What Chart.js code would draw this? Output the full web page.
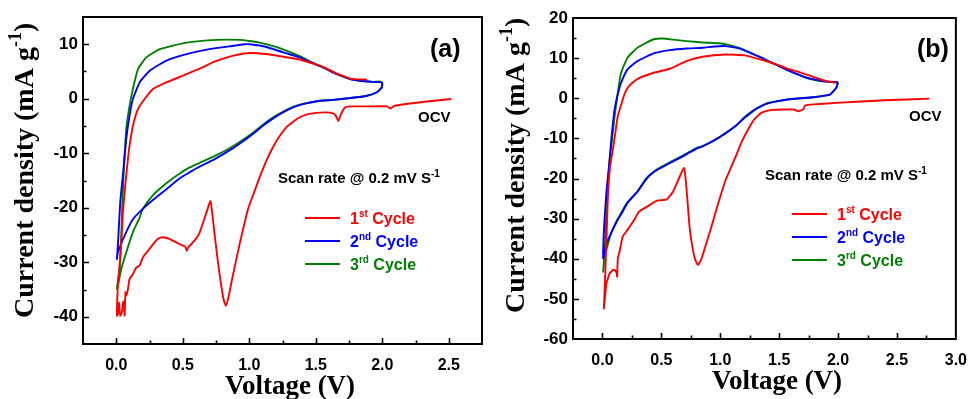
<!DOCTYPE html>
<html>
<head>
<meta charset="utf-8">
<script src="https://cdn.jsdelivr.net/npm/chart.js@4.4.1/dist/chart.umd.min.js"></script>
<style>
  body { margin: 0; background: #fff; }
  #wrap { position: relative; width: 979px; height: 399px; }
  .panel { position: absolute; top: 0; height: 399px; }
</style>
</head>
<body>
<div id="wrap">
  <div class="panel" style="left:0;width:490px"><canvas id="chartA"></canvas></div>
  <div class="panel" style="left:490px;width:489px"><canvas id="chartB"></canvas></div>
</div>
<script>
// ticks
const aTicksX = [0, 0.5, 1.0, 1.5, 2.0, 2.5];
const aTicksY = [-40, -30, -20, -10, 0, 10];
const bTicksX = [0, 0.5, 1.0, 1.5, 2.0, 2.5, 3.0];
const bTicksY = [-60, -50, -40, -30, -20, -10, 0, 10, 20];

const cycleNum = ['1', '2', '3'];
const cycleSup = ['st', 'nd', 'rd'];
const cycleColors = ['#ff0000', '#0000ff', '#008000'];

// panel (a) : [voltage V, current density mA g-1]
const aCycle1 = [
  [2.52, -0.05], [2.30, -0.6], [2.09, -1.3], [2.06, -1.8], [2.04, -1.4], [1.90, -1.4],
  [1.76, -1.4], [1.72, -1.6], [1.69, -2.8], [1.67, -4.1], [1.65, -3.1], [1.63, -2.7],
  [1.58, -2.5], [1.50, -2.6], [1.43, -2.9], [1.38, -3.4], [1.33, -4.2], [1.28, -5.2],
  [1.23, -6.8], [1.18, -8.8], [1.13, -11.3], [1.08, -14.3], [1.03, -17.6], [0.99, -20.3],
  [0.93, -26.4], [0.87, -33.2], [0.845, -36.3], [0.824, -38.0], [0.805, -36.6], [0.77, -31.0],
  [0.74, -25.0], [0.709, -18.8], [0.679, -20.8], [0.628, -24.5], [0.59, -26.0], [0.54, -27.3],
  [0.53, -27.9], [0.52, -27.2], [0.477, -26.7], [0.40, -25.7], [0.35, -25.4], [0.314, -25.7],
  [0.276, -26.7], [0.238, -27.9], [0.20, -29.1], [0.176, -30.6], [0.15, -31.0], [0.125, -32.2],
  [0.10, -33.1], [0.088, -34.9], [0.075, -36.1], [0.069, -35.5], [0.063, -39.8], [0.056, -37.2],
  [0.05, -37.4], [0.042, -39.2], [0.03, -39.8], [0.02, -37.4], [0.012, -39.5], [0.005, -39.8],
  [0.012, -34.3], [0.025, -30.6], [0.038, -26.3], [0.05, -20.8], [0.07, -15.3], [0.088, -11.0],
  [0.10, -8.6], [0.125, -5.0], [0.163, -1.9], [0.213, -0.05], [0.276, 1.8], [0.377, 3.0],
  [0.528, 4.5], [0.653, 5.8], [0.729, 6.7], [0.88, 7.9], [1.005, 8.4], [1.13, 8.2],
  [1.256, 7.7], [1.38, 7.2], [1.46, 6.6], [1.56, 5.8], [1.66, 4.6], [1.76, 3.7], [1.885, 3.5]
];
const aCycle2 = [
  [2.0, 3.0], [1.998, 2.1], [1.96, 1.2], [1.885, 0.55], [1.76, 0.13], [1.63, -0.2],
  [1.51, -0.45], [1.42, -0.9], [1.34, -1.5], [1.26, -2.4], [1.18, -3.6], [1.10, -5.0],
  [1.03, -6.4], [0.93, -8.2], [0.83, -9.8], [0.73, -11.2], [0.63, -12.4], [0.53, -13.8],
  [0.477, -14.6], [0.377, -16.6], [0.28, -18.5], [0.20, -20.2], [0.125, -22.1], [0.063, -25.1],
  [0.012, -28.2], [0.005, -29.4], [0.012, -27.0], [0.03, -19.0], [0.05, -14.0], [0.075, -7.4],
  [0.10, -3.1], [0.125, -0.05], [0.176, 3.0], [0.25, 5.1], [0.377, 7.0], [0.528, 8.2],
  [0.70, 9.1], [0.85, 9.6], [0.96, 10.0], [1.005, 10.0], [1.13, 9.5], [1.256, 8.5],
  [1.38, 7.6], [1.46, 6.7], [1.56, 5.7], [1.66, 4.5], [1.76, 3.6], [1.835, 3.3],
  [1.93, 3.1], [2.0, 3.0]
];
const aCycle3 = [
  [2.0, 2.9], [1.998, 2.1], [1.96, 1.2], [1.885, 0.55], [1.76, 0.13], [1.63, -0.2],
  [1.51, -0.45], [1.42, -0.85], [1.34, -1.4], [1.26, -2.3], [1.18, -3.4], [1.10, -4.8],
  [1.03, -6.2], [0.93, -7.9], [0.83, -9.4], [0.73, -10.6], [0.63, -11.7], [0.553, -12.6],
  [0.477, -13.7], [0.377, -15.5], [0.28, -17.6], [0.20, -20.2], [0.176, -21.8], [0.125, -24.5],
  [0.075, -28.2], [0.038, -31.2], [0.012, -34.3], [0.005, -34.8], [0.025, -31.2], [0.038, -25.1],
  [0.05, -16.6], [0.075, -5.6], [0.10, -1.3], [0.125, 1.8], [0.163, 5.4], [0.226, 7.6],
  [0.327, 9.1], [0.528, 10.3], [0.754, 10.8], [0.93, 10.8], [1.005, 10.6], [1.08, 10.3],
  [1.23, 9.3], [1.38, 7.8], [1.46, 6.8], [1.56, 5.7], [1.66, 4.5], [1.76, 3.6],
  [1.835, 3.3], [1.93, 3.1], [1.985, 3.15], [2.0, 2.9]
];

// panel (b)
const bCycle1 = [
  [2.774, -0.1], [2.40, -0.5], [1.985, -1.15], [1.764, -1.6], [1.72, -1.8], [1.708, -2.65],
  [1.667, -3.25], [1.625, -2.8], [1.55, -2.8], [1.432, -2.9], [1.349, -3.65], [1.29, -5.2],
  [1.24, -7.6], [1.18, -11.0], [1.127, -14.8], [1.044, -20.5], [0.99, -25.5], [0.93, -31.5],
  [0.878, -36.5], [0.84, -40.0], [0.81, -41.6], [0.785, -40.0], [0.76, -36.5], [0.739, -32.0],
  [0.712, -22.0], [0.693, -17.4], [0.656, -19.5], [0.60, -23.25], [0.546, -25.2], [0.463, -25.5],
  [0.38, -27.0], [0.31, -28.25], [0.27, -30.3], [0.213, -32.8], [0.172, -34.5], [0.145, -38.25],
  [0.13, -40.0], [0.125, -44.5], [0.12, -43.5], [0.105, -42.8], [0.089, -42.8], [0.075, -43.2],
  [0.061, -43.65], [0.045, -45.0], [0.033, -46.15], [0.012, -52.4], [0.02, -47.0], [0.033, -36.0],
  [0.047, -24.0], [0.065, -17.0], [0.09, -12.5], [0.105, -9.5], [0.13, -4.5], [0.16, -1.5],
  [0.19, 1.3], [0.23, 3.2], [0.297, 4.8], [0.435, 6.35], [0.573, 7.35], [0.712, 9.25],
  [0.85, 10.35], [1.044, 10.9], [1.21, 10.7], [1.404, 9.1], [1.487, 8.3], [1.57, 7.4],
  [1.65, 6.7], [1.736, 5.9], [1.82, 5.0], [1.90, 4.25], [1.985, 3.85]
];
const bCycle2 = [
  [2.0, 4.0], [1.985, 2.6], [1.93, 0.9], [1.79, 0.25], [1.68, 0.0], [1.57, -0.3],
  [1.49, -0.7], [1.404, -1.3], [1.34, -2.1], [1.293, -2.9], [1.21, -4.8], [1.127, -7.0],
  [1.044, -8.8], [0.96, -10.3], [0.85, -12.0], [0.795, -12.6], [0.712, -14.0], [0.629, -15.3],
  [0.57, -16.2], [0.50, -17.3], [0.435, -18.4], [0.37, -20.2], [0.297, -23.3], [0.21, -26.2],
  [0.158, -29.0], [0.13, -30.2], [0.075, -33.5], [0.04, -35.8], [0.02, -37.8], [0.006, -39.9],
  [0.014, -32.0], [0.033, -23.65], [0.047, -19.5], [0.061, -15.3], [0.075, -10.3], [0.103, -2.8],
  [0.13, 1.0], [0.158, 3.85], [0.213, 7.2], [0.297, 9.25], [0.435, 11.2], [0.573, 12.0],
  [0.712, 12.4], [0.85, 12.6], [0.95, 12.9], [1.044, 13.0], [1.13, 12.6], [1.183, 12.2],
  [1.266, 11.2], [1.349, 10.1], [1.404, 9.3], [1.487, 8.2], [1.57, 7.0], [1.65, 6.1],
  [1.736, 5.1], [1.847, 4.4], [1.93, 4.1], [2.0, 4.0]
];
const bCycle3 = [
  [2.0, 4.0], [1.985, 2.6], [1.93, 0.9], [1.79, 0.25], [1.68, 0.0], [1.57, -0.3],
  [1.49, -0.7], [1.404, -1.15], [1.34, -2.0], [1.293, -2.8], [1.21, -4.6], [1.127, -7.0],
  [1.044, -8.7], [0.96, -10.3], [0.85, -11.9], [0.795, -12.4], [0.712, -13.8], [0.629, -15.1],
  [0.57, -16.0], [0.50, -17.1], [0.435, -18.3], [0.37, -20.0], [0.297, -23.2], [0.21, -26.0],
  [0.158, -28.6], [0.10, -31.8], [0.075, -33.6], [0.04, -37.0], [0.02, -39.5], [0.006, -43.25],
  [0.02, -37.8], [0.04, -23.65], [0.061, -15.3], [0.075, -12.0], [0.103, -4.5], [0.13, 1.35],
  [0.158, 6.35], [0.213, 10.1], [0.297, 12.6], [0.435, 14.7], [0.518, 14.9], [0.60, 14.6],
  [0.712, 14.25], [0.85, 13.9], [0.988, 13.7], [1.07, 13.3], [1.155, 12.6], [1.25, 11.4],
  [1.349, 10.1], [1.404, 9.3], [1.487, 8.2], [1.57, 7.0], [1.65, 6.0], [1.736, 5.0],
  [1.847, 4.3], [1.93, 4.05], [2.0, 4.0]
];

const SANS = "'Liberation Sans', Arial, sans-serif";
const SERIF = "'Liberation Serif', 'Times New Roman', serif";
const xTickFont = { family: SANS, size: 16, weight: 'bold' };
const yTickFont = { family: SANS, size: 17, weight: 'bold' };

// text with a superscript part
function supText(ctx, x, y, parts, size, color) {
  ctx.fillStyle = color;
  ctx.textBaseline = 'alphabetic';
  ctx.textAlign = 'left';
  parts.forEach(p => {
    const fs = p.sup ? Math.round(size * 0.64) : size;
    ctx.font = 'bold ' + fs + 'px ' + (p.serif ? SERIF : SANS);
    ctx.fillText(p.t, x, p.sup ? y - size * 0.42 : y);
    x += ctx.measureText(p.t).width;
  });
  return x;
}

function decorPlugin(o) {
  return {
    id: 'decor',
    afterDraw(chart) {
      const ctx = chart.ctx, a = chart.chartArea;
      const sx = chart.scales.x, sy = chart.scales.y;
      ctx.save();
      // minor / major ticks, pointing inward
      ctx.strokeStyle = '#000';
      ctx.lineWidth = 1.6;
      ctx.beginPath();
      for (let v = o.xMin + 0.25; v < o.xMax - 1e-6; v += 0.25) {
        const px = Math.round(sx.getPixelForValue(v)) + 0.5;
        const major = o.ticksX.some(t => Math.abs(t - v) < 1e-6);
        ctx.moveTo(px, a.bottom);
        ctx.lineTo(px, a.bottom - (major ? 6 : 3.5));
      }
      for (let v = o.yMin + 5; v < o.yMax - 1e-6; v += 5) {
        const py = Math.round(sy.getPixelForValue(v)) + 0.5;
        const major = o.ticksY.some(t => Math.abs(t - v) < 1e-6);
        ctx.moveTo(a.left, py);
        ctx.lineTo(a.left + (major ? 6 : 3.5), py);
      }
      ctx.stroke();
      // frame
      ctx.lineWidth = 2;
      ctx.strokeRect(a.left, a.top, a.right - a.left, a.bottom - a.top);

      // axis titles
      ctx.save();
      ctx.translate(o.yTitleX, o.yTitleY);
      ctx.rotate(-Math.PI / 2);
      supText(ctx, 0, 0, [
        { t: 'Current density (mA g', serif: true },
        { t: '-1', serif: true, sup: true },
        { t: ')', serif: true }
      ], 28, '#000');
      ctx.restore();
      ctx.font = 'bold 27px ' + SERIF;
      ctx.fillStyle = '#000';
      ctx.textAlign = 'center';
      ctx.textBaseline = 'alphabetic';
      ctx.fillText('Voltage (V)', o.xTitleX, o.xTitleY);

      // panel label, OCV, scan rate
      supText(ctx, o.tagX, o.tagY, [{ t: o.tag }], 25, '#000');
      supText(ctx, o.ocvX, o.ocvY, [{ t: 'OCV' }], 15, '#000');
      supText(ctx, o.scanX, o.scanY, [{ t: 'Scan rate @ 0.2 mV S' }, { t: '-1', sup: true }], 15, '#000');

      // legend
      cycleNum.forEach((n, i) => {
        const ly = o.legY + i * 23;
        ctx.strokeStyle = cycleColors[i];
        ctx.lineWidth = 2;
        ctx.beginPath();
        ctx.moveTo(o.legX, ly);
        ctx.lineTo(o.legX + 35, ly);
        ctx.stroke();
        supText(ctx, o.legX + 45, ly + 6, [{ t: n }, { t: cycleSup[i], sup: true }, { t: ' Cycle' }], 16, cycleColors[i]);
      });
      ctx.restore();
    }
  };
}

function makeChart(id, cycles, o) {
  const datasets = cycles.map((c, i) => ({
    label: cycleNum[i] + cycleSup[i] + ' Cycle',
    data: c.map(p => ({ x: p[0], y: p[1] })),
    borderColor: cycleColors[i],
    borderWidth: 1.9,
    pointRadius: 0,
    tension: 0.15,
    fill: false
  }));
  return new Chart(document.getElementById(id), {
    type: 'line',
    data: { datasets },
    options: {
      responsive: true,
      maintainAspectRatio: false,
      animation: false,
      layout: { padding: { top: o.padTop, right: o.padRight, left: 0, bottom: 0 } },
      plugins: { legend: { display: false }, tooltip: { enabled: false } },
      scales: {
        x: {
          type: 'linear', min: o.xMin, max: o.xMax,
          afterBuildTicks: s => { s.ticks = o.ticksX.map(v => ({ value: v })); },
          afterFit: s => { s.height = o.xAxisH; },
          grid: { display: false, drawTicks: false },
          border: { display: false },
          ticks: { font: xTickFont, color: '#000', padding: 12, maxRotation: 0, callback: v => v.toFixed(1) }
        },
        y: {
          type: 'linear', min: o.yMin, max: o.yMax,
          afterBuildTicks: s => { s.ticks = o.ticksY.map(v => ({ value: v })); },
          afterFit: s => { s.width = 83; },
          grid: { display: false, drawTicks: false },
          border: { display: false },
          ticks: { font: yTickFont, color: '#000', padding: 5, callback: v => String(v) }
        }
      }
    },
    plugins: [decorPlugin(o)]
  });
}

makeChart('chartA', [aCycle1, aCycle2, aCycle3], {
  xMin: -0.25, xMax: 2.75, yMin: -45, yMax: 15, ticksX: aTicksX, ticksY: aTicksY,
  padTop: 17, padRight: 8, xAxisH: 55,
  yTitleX: 33, yTitleY: 318, xTitleX: 290, xTitleY: 394,
  tag: '(a)', tagX: 430, tagY: 57, ocvX: 418, ocvY: 122, scanX: 278, scanY: 183,
  legX: 305, legY: 218
});
makeChart('chartB', [bCycle1, bCycle2, bCycle3], {
  xMin: -0.25, xMax: 3.0, yMin: -60, yMax: 20, ticksX: bTicksX, ticksY: bTicksY,
  padTop: 18, padRight: 13, xAxisH: 60,
  yTitleX: 34, yTitleY: 313, xTitleX: 287, xTitleY: 389,
  tag: '(b)', tagX: 427, tagY: 57, ocvX: 419, ocvY: 121, scanX: 275, scanY: 180,
  legX: 302, legY: 214
});
</script>
</body>
</html>
